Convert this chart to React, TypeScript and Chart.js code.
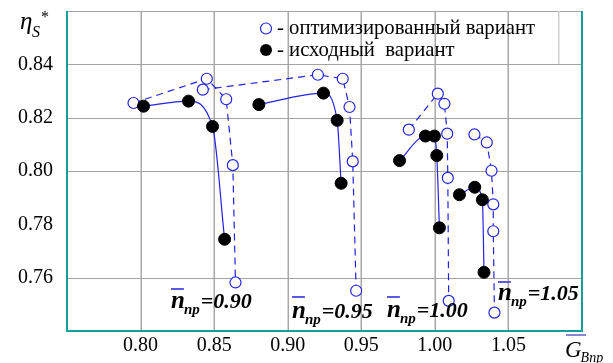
import React, { useEffect, useRef } from "react";
import { Chart, registerables } from "chart.js";

Chart.register(...registerables);

// ---- data ----
const xTicks = [0.75, 0.8, 0.85, 0.9, 0.95, 1.0, 1.05, 1.1];
const yTicks = [0.74, 0.76, 0.78, 0.8, 0.82, 0.84, 0.86];
const xGridValues = [0.8, 0.85, 0.9, 0.95, 1.0, 1.05];
const yGridValues = [0.76, 0.8, 0.82, 0.84, 0.86];

const groupLabels = ["0.90", "0.95", "1.00", "1.05"];

// optimized variant (open circles, dashed)
const optX090 = [0.7952, 0.845, 0.8582, 0.8627, 0.8645];
const optY090 = [0.8255, 0.8346, 0.8269, 0.8022, 0.7582];
const optX095 = [0.8423, 0.9205, 0.9374, 0.942, 0.9442, 0.9465];
const optY095 = [0.8305, 0.8361, 0.8346, 0.824, 0.8036, 0.7551];
const optX100 = [0.9823, 1.002, 1.0065, 1.0084, 1.0088, 1.0094];
const optY100 = [0.8155, 0.829, 0.8252, 0.814, 0.7974, 0.7513];
const optX105 = [1.0269, 1.0353, 1.0385, 1.0397, 1.0397, 1.0405];
const optY105 = [0.8137, 0.8107, 0.8001, 0.7875, 0.7774, 0.7469];

// original variant (filled circles, solid)
const orgX090 = [0.802, 0.8326, 0.8489, 0.8571];
const orgY090 = [0.8243, 0.8262, 0.8167, 0.7744];
const orgX095 = [0.8804, 0.9243, 0.9336, 0.9363];
const orgY095 = [0.8249, 0.8292, 0.819, 0.7954];
const orgX100 = [0.976, 0.9936, 0.9997, 1.0013, 1.0031];
const orgY100 = [0.8039, 0.8131, 0.8131, 0.8058, 0.7787];
const orgX105 = [1.0167, 1.0271, 1.0323, 1.0334];
const orgY105 = [0.7911, 0.7939, 0.7892, 0.762];

const legendOpt = "- оптимизированный вариант";
const legendOrg = "- исходный  вариант";

const SERIF = "'Liberation Serif', 'Times New Roman', serif";
const TEAL = "#12a09a";
const BLUE = "#2323e6";
const GRID = "#a4a4a4";
const VGRID = "#a8a8a8";

const pts = (xs: number[], ys: number[]) => xs.map((x, i) => ({ x, y: ys[i] }));

const near = (a: number, b: number) => Math.abs(a - b) < 1e-6;

export default function App() {
  const ref = useRef<HTMLCanvasElement | null>(null);

  useEffect(() => {
    if (!ref.current) return;
    const optSets = [
      [optX090, optY090],
      [optX095, optY095],
      [optX100, optY100],
      [optX105, optY105],
    ];
    const orgSets = [
      [orgX090, orgY090],
      [orgX095, orgY095],
      [orgX100, orgY100],
      [orgX105, orgY105],
    ];
    const datasets: any[] = [];
    orgSets.forEach(([xs, ys], i) => {
      datasets.push({
        label: "org " + groupLabels[i],
        data: pts(xs, ys),
        showLine: true,
        order: 0,
        borderColor: BLUE,
        borderWidth: 1.2,
        cubicInterpolationMode: "monotone",
        pointRadius: 6,
        pointBackgroundColor: "#000",
        pointBorderColor: "#000",
        pointBorderWidth: 1,
      });
    });
    optSets.forEach(([xs, ys], i) => {
      datasets.push({
        label: "opt " + groupLabels[i],
        data: pts(xs, ys),
        showLine: true,
        order: 1,
        borderColor: BLUE,
        borderWidth: 1.2,
        borderDash: [7, 5],
        tension: 0,
        pointRadius: 5.5,
        pointBackgroundColor: "#fff",
        pointBorderColor: BLUE,
        pointBorderWidth: 1.2,
      });
    });

    const gridPlugin = {
      id: "manualGrid",
      beforeDatasetsDraw(chart: any) {
        const c = chart.ctx as CanvasRenderingContext2D;
        const a = chart.chartArea;
        const sx = chart.scales.x;
        const sy = chart.scales.y;
        c.save();
        c.fillStyle = VGRID;
        xGridValues.forEach((v) => {
          const p = Math.round(sx.getPixelForValue(v));
          c.fillRect(p - 0.5, a.top, 1.5, a.bottom - a.top);
        });
        c.fillStyle = GRID;
        yGridValues.forEach((v) => {
          const p = Math.round(sy.getPixelForValue(v));
          c.fillRect(a.left, p, a.right - a.left, 1);
        });
        c.restore();
      },
    };

    const overlay = {
      id: "overlay",
      afterDraw(chart: any) {
        const c = chart.ctx as CanvasRenderingContext2D;
        const a = chart.chartArea;
        c.save();
        // frame (left, bottom, right) in teal
        c.strokeStyle = TEAL;
        c.lineWidth = 2;
        c.beginPath();
        c.moveTo(a.left, a.top);
        c.lineTo(a.left, a.bottom);
        c.lineTo(a.right, a.bottom);
        c.lineTo(a.right, a.top);
        c.stroke();
        // legend box right edge
        c.fillStyle = "#cfcfcf";
        c.fillRect(558, a.top, 1.5, 64 - a.top);
        // legend
        c.beginPath();
        c.arc(266, 28.5, 5.5, 0, Math.PI * 2);
        c.fillStyle = "#fff";
        c.fill();
        c.strokeStyle = BLUE;
        c.lineWidth = 1.2;
        c.stroke();
        c.beginPath();
        c.arc(266, 50, 6, 0, Math.PI * 2);
        c.fillStyle = "#000";
        c.fill();
        c.fillStyle = "#000";
        c.font = `20.7px ${SERIF}`;
        c.textBaseline = "alphabetic";
        c.textAlign = "left";
        c.fillText(legendOpt, 277, 33.5);
        c.fillText(legendOrg, 277, 55.5);

        // n_np labels
        const nLabel = (x: number, base: number, ov: number, val: string) => {
          c.fillStyle = "#000";
          c.font = `bold italic 25px ${SERIF}`;
          c.fillText("n", x, base);
          const wn = c.measureText("n").width;
          c.font = `bold italic 15px ${SERIF}`;
          c.fillText("np", x + wn - 1, base + 6);
          const ws = c.measureText("np").width;
          c.font = `bold italic 22px ${SERIF}`;
          c.fillText("=" + val, x + wn + ws, base);
          c.strokeStyle = "#5a5ae0";
          c.lineWidth = 2;
          c.beginPath();
          c.moveTo(x, ov);
          c.lineTo(x + wn - 1, ov);
          c.stroke();
        };
        nLabel(171, 308, 289, groupLabels[0]);
        nLabel(292, 318, 297, groupLabels[1]);
        nLabel(387, 317, 297, groupLabels[2]);
        nLabel(498, 300, 282, groupLabels[3]);

        // y axis title eta_S*
        c.fillStyle = "#000";
        c.font = `italic 25px ${SERIF}`;
        c.fillText("η", 20, 29);
        c.font = `italic 16px ${SERIF}`;
        c.fillText("S", 32, 37);
        c.font = `16px ${SERIF}`;
        c.fillText("*", 41, 22);

        // x axis title G_Bnp
        c.font = `italic 23px ${SERIF}`;
        c.fillText("G", 565, 357);
        const wg = c.measureText("G").width;
        c.font = `italic 14px ${SERIF}`;
        c.fillText("Bnp", 565 + wg - 1, 362);
        c.strokeStyle = "#8585d8";
        c.lineWidth = 2;
        c.beginPath();
        c.moveTo(566, 335);
        c.lineTo(586, 335);
        c.stroke();
        c.restore();
      },
    };

    const chart = new Chart(ref.current, {
      type: "scatter",
      data: { datasets },
      plugins: [gridPlugin, overlay],
      options: {
        responsive: false,
        animation: false,
        devicePixelRatio: 1,
        layout: { padding: { top: 11, right: 31, left: 0, bottom: 0 } },
        plugins: { legend: { display: false }, tooltip: { enabled: false } },
        scales: {
          x: {
            type: "linear",
            min: 0.75,
            max: 1.1,
            afterBuildTicks: (s: any) => {
              s.ticks = xTicks.map((v) => ({ value: v }));
            },
            afterFit: (s: any) => {
              s.height = 32;
              s.paddingLeft = 0;
              s.paddingRight = 0;
            },
            grid: { display: false, drawTicks: false },
            border: { display: false },
            ticks: {
              padding: 3,
              autoSkip: false,
              maxRotation: 0,
              color: "#000",
              font: { family: SERIF, size: 20 },
              callback: (v: any) => {
                const n = Number(v);
                return near(n, 0.75) || near(n, 1.1) ? "" : n.toFixed(2);
              },
            },
          },
          y: {
            type: "linear",
            min: 0.74,
            max: 0.86,
            afterBuildTicks: (s: any) => {
              s.ticks = yTicks.map((v) => ({ value: v }));
            },
            afterFit: (s: any) => {
              s.width = 67;
              s.paddingTop = 0;
              s.paddingBottom = 0;
            },
            grid: { display: false, drawTicks: false },
            border: { display: false },
            ticks: {
              padding: 14,
              autoSkip: false,
              color: "#000",
              font: { family: SERIF, size: 20 },
              callback: (v: any) => {
                const n = Number(v);
                return near(n, 0.74) || near(n, 0.86) ? "" : n.toFixed(2);
              },
            },
          },
        },
      },
    });
    return () => chart.destroy();
  }, []);

  return (
    <div style={{ position: "fixed", left: 0, top: 0, width: 613, height: 363, background: "#fff" }}>
      <canvas ref={ref} width={613} height={363} style={{ display: "block", width: 613, height: 363 }} />
    </div>
  );
}
